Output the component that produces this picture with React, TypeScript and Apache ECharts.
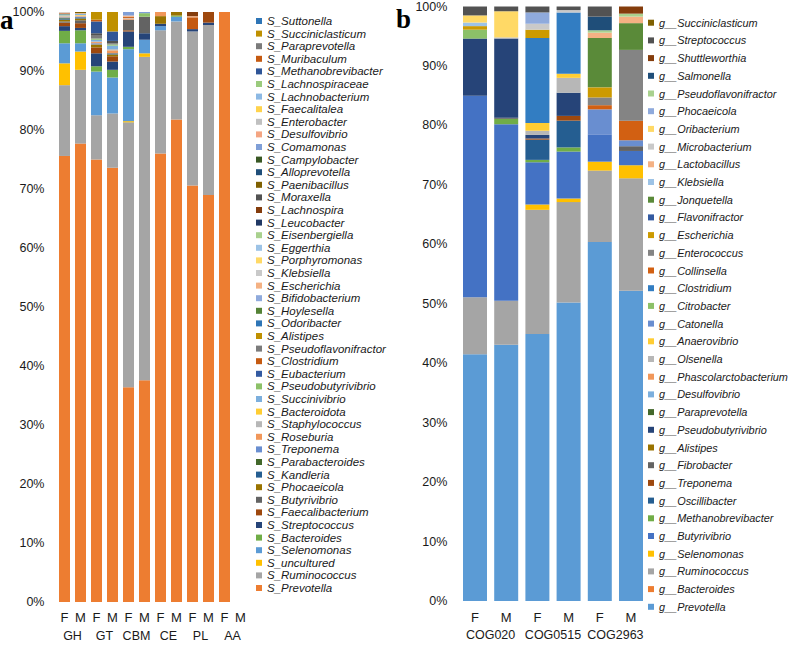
import { useEffect, useRef } from "react";
import * as echarts from "echarts";

// Panel a: species-level composition by breed and sex
const breedSamples = ["F", "M", "F", "M", "F", "M", "F", "M", "F", "M", "F", "M"];
const breedGroups = ["GH", "GT", "CBM", "CE", "PL", "AA"];

// Panel b: genus-level composition by COG group and sex
const cogSamples = ["F", "M", "F", "M", "F", "M"];
const cogGroups = ["COG020", "COG0515", "COG2963"];

const yTicks = { min: 0, max: 100, interval: 10 };

// Species, stacked from the bottom up
const speciesNames = [
  "S_Prevotella", "S_Ruminococcus", "S_uncultured", "S_Selenomonas", "S_Bacteroides",
  "S_Streptococcus", "S_Faecalibacterium", "S_Butyrivibrio", "S_Phocaeicola", "S_Kandleria",
  "S_Parabacteroides", "S_Treponema", "S_Roseburia", "S_Staphylococcus", "S_Bacteroidota",
  "S_Succinivibrio", "S_Pseudobutyrivibrio", "S_Eubacterium", "S_Clostridium", "S_Pseudoflavonifractor",
  "S_Alistipes", "S_Odoribacter", "S_Hoylesella", "S_Bifidobacterium", "S_Escherichia",
  "S_Klebsiella", "S_Porphyromonas", "S_Eggerthia", "S_Eisenbergiella", "S_Leucobacter",
  "S_Lachnospira", "S_Moraxella", "S_Paenibacillus", "S_Alloprevotella", "S_Campylobacter",
  "S_Comamonas", "S_Desulfovibrio", "S_Enterobacter", "S_Faecalitalea", "S_Lachnobacterium",
  "S_Lachnospiraceae", "S_Methanobrevibacter", "S_Muribaculum", "S_Paraprevotella", "S_Succiniclasticum",
  "S_Suttonella",
];

const speciesColors = [
  "#ED7D31", "#A5A5A5", "#FFC000", "#5B9BD5", "#70AD47",
  "#264478", "#9E480E", "#636363", "#997300", "#255E91",
  "#43682B", "#698ED0", "#F1975A", "#B7B7B7", "#FFCD33",
  "#7CAFDD", "#8CC168", "#335AA1", "#C55A11", "#7B7B7B",
  "#BF9000", "#2E75B6", "#548235", "#8FAADC", "#F4B183",
  "#C9C9C9", "#FFD966", "#9DC3E6", "#A9D18E", "#203864",
  "#843C0C", "#525252", "#7F6000", "#1F4E79", "#385723",
  "#7F9FD7", "#F4A582", "#C0C0C0", "#FFD34D", "#8DB9E4",
  "#9BCB7D", "#2F5597", "#C55A11", "#7B7B7B", "#BF9000",
  "#2E75B6",
];

// Relative abundance (%) per species; columns follow breedSamples
const speciesShares: number[][] = [
  [75.6, 77.7, 75.0, 73.6, 36.4, 37.6, 76.0, 81.8, 70.6, 69.0, 100, 0],
  [12.0, 12.5, 7.5, 9.2, 44.9, 54.8, 20.9, 16.6, 26.1, 28.8, 0, 0],
  [3.7, 3.1, 0, 0, 0.2, 0.6, 0, 0, 0, 0, 0, 0],
  [3.4, 1.4, 7.4, 6.1, 12.2, 2.3, 0.7, 0.8, 0, 0, 0, 0],
  [2.1, 2.2, 0.9, 1.3, 0.4, 0, 0, 0.2, 0, 0, 0, 0],
  [0.8, 0.4, 2.2, 1.4, 2.6, 1.1, 0.4, 0, 0.4, 0.4, 0, 0],
  [0.6, 0.8, 1.0, 0.9, 0.2, 0, 0, 0, 0, 1.8, 0, 0],
  [0.2, 0.5, 0, 0, 1.8, 2.8, 0, 0, 0, 0, 0, 0],
  [0.3, 0.3, 0.5, 0.3, 0, 0, 1.3, 0.6, 0, 0, 0, 0],
  [0.2, 0.2, 0, 0.2, 0, 0, 0, 0, 0, 0, 0, 0],
  [0.1, 0, 0, 0, 0, 0, 0, 0, 0, 0, 0, 0],
  [0.1, 0.1, 0.2, 0, 0, 0, 0, 0, 0, 0, 0, 0],
  [0.1, 0.1, 0.2, 0.5, 0.2, 0, 0.7, 0, 0, 0, 0, 0],
  [0.1, 0.1, 0.1, 0.2, 0.1, 0, 0, 0, 0, 0, 0, 0],
  [0.1, 0.1, 0, 0, 0, 0, 0, 0, 0, 0, 0, 0],
  [0.1, 0.2, 0.3, 0.6, 0, 0, 0, 0, 0, 0, 0, 0],
  [0.1, 0, 0.2, 0.2, 0, 0.6, 0, 0, 0, 0, 0, 0],
  [0.1, 0, 0, 0, 0, 0, 0, 0, 0, 0, 0, 0],
  [0.1, 0, 0, 0, 0.2, 0, 0, 0, 2.0, 0, 0, 0],
  [0, 0, 0.6, 0.2, 0, 0, 0, 0, 0, 0, 0, 0],
  [0, 0, 0, 0, 0, 0, 0, 0, 0, 0, 0, 0],
  [0, 0, 0, 0, 0, 0, 0, 0, 0, 0, 0, 0],
  [0, 0, 0, 0, 0, 0, 0, 0, 0, 0, 0, 0],
  [0, 0, 0, 0, 0, 0, 0, 0, 0, 0, 0, 0],
  [0.1, 0.1, 0, 0, 0.2, 0, 0, 0, 0.2, 0, 0, 0],
  [0.1, 0, 0, 0, 0, 0, 0, 0, 0, 0, 0, 0],
  [0, 0, 0, 0, 0, 0, 0, 0, 0, 0, 0, 0],
  [0, 0, 0, 0, 0, 0, 0, 0, 0, 0, 0, 0],
  [0, 0, 0, 0, 0, 0, 0, 0, 0, 0, 0, 0],
  [0, 0, 0, 0, 0, 0, 0, 0, 0, 0, 0, 0],
  [0, 0, 0, 0, 0, 0, 0, 0, 0.7, 0, 0, 0],
  [0, 0, 0.3, 0.4, 0, 0, 0, 0, 0, 0, 0, 0],
  [0, 0.2, 0, 0, 0, 0, 0, 0, 0, 0, 0, 0],
  [0, 0, 0, 0, 0, 0, 0, 0, 0, 0, 0, 0],
  [0, 0, 0, 0, 0, 0, 0, 0, 0, 0, 0, 0],
  [0, 0, 0, 0, 0.6, 0.2, 0, 0, 0, 0, 0, 0],
  [0, 0, 0, 0, 0, 0, 0, 0, 0, 0, 0, 0],
  [0, 0, 0, 0, 0, 0, 0, 0, 0, 0, 0, 0],
  [0, 0, 0, 0, 0, 0, 0, 0, 0, 0, 0, 0],
  [0, 0, 0, 0, 0, 0, 0, 0, 0, 0, 0, 0],
  [0, 0, 0, 0, 0, 0, 0, 0, 0, 0, 0, 0],
  [0, 0, 2.0, 1.6, 0, 0, 0, 0, 0, 0, 0, 0],
  [0, 0, 0.3, 0, 0, 0, 0, 0, 0, 0, 0, 0],
  [0, 0, 0, 0, 0, 0, 0, 0, 0, 0, 0, 0],
  [0, 0, 1.3, 3.3, 0, 0, 0, 0, 0, 0, 0, 0],
  [0, 0, 0, 0, 0, 0, 0, 0, 0, 0, 0, 0],
];

// Genera, stacked from the bottom up
const genusNames = [
  "g__Prevotella", "g__Bacteroides", "g__Ruminococcus", "g__Selenomonas", "g__Butyrivibrio",
  "g__Methanobrevibacter", "g__Oscillibacter", "g__Treponema", "g__Fibrobacter", "g__Alistipes",
  "g__Pseudobutyrivibrio", "g__Paraprevotella", "g__Desulfovibrio", "g__Phascolarctobacterium", "g__Olsenella",
  "g__Anaerovibrio", "g__Catonella", "g__Citrobacter", "g__Clostridium", "g__Collinsella",
  "g__Enterococcus", "g__Escherichia", "g__Flavonifractor", "g__Jonquetella", "g__Klebsiella",
  "g__Lactobacillus", "g__Microbacterium", "g__Oribacterium", "g__Phocaeicola", "g__Pseudoflavonifractor",
  "g__Salmonella", "g__Shuttleworthia", "g__Streptococcus", "g__Succiniclasticum",
];

const genusColors = [
  "#5B9BD5", "#ED7D31", "#A5A5A5", "#FFC000", "#4472C4",
  "#70AD47", "#255E91", "#9E480E", "#636363", "#997300",
  "#264478", "#43682B", "#7CAFDD", "#F1975A", "#B7B7B7",
  "#FFCD33", "#698ED0", "#8CC168", "#327DC2", "#D26012",
  "#848484", "#CC9A00", "#335AA1", "#5A8A39", "#9DC3E6",
  "#F4B183", "#C9C9C9", "#FFD966", "#8FAADC", "#A9D18E",
  "#1F4E79", "#843C0C", "#525252", "#7F6000",
];

// Relative abundance (%) per genus; columns follow cogSamples
const genusShares: number[][] = [
  [41.5, 43.1, 44.9, 50.2, 60.4, 52.2],
  [0, 0, 0, 0, 0, 0],
  [9.6, 7.4, 20.9, 16.9, 12.0, 18.9],
  [0, 0, 0.9, 0.6, 1.5, 2.2],
  [33.9, 29.7, 7.1, 7.9, 4.6, 2.4],
  [0, 0.9, 0.4, 0.7, 0, 0],
  [0, 0, 3.4, 4.5, 0, 0],
  [0, 0, 0.2, 0.8, 0, 0],
  [0, 0.2, 0, 0, 0, 0.8],
  [0, 0, 0, 0, 0, 0],
  [9.6, 13.3, 0.6, 3.9, 0, 0],
  [0, 0, 0, 0, 0, 0],
  [0, 0, 0, 0, 0, 0],
  [0, 0, 0, 0, 0, 0],
  [0, 0.2, 0.7, 2.5, 0, 0],
  [0, 0, 1.3, 0.7, 0, 0],
  [0, 0, 0, 0, 4.2, 1.0],
  [1.5, 0, 0, 0, 0, 0],
  [0, 0, 14.3, 10.3, 0, 0],
  [0, 0, 0, 0, 0.7, 3.3],
  [0, 0, 0, 0, 1.3, 11.9],
  [0.6, 0, 1.4, 0, 1.7, 0],
  [0, 0, 0, 0, 0, 0],
  [0, 0, 0, 0, 8.3, 4.5],
  [0.6, 0, 0, 0, 0, 0],
  [0, 0, 0, 0, 0.9, 1.1],
  [0, 0, 1.0, 0.4, 0, 0],
  [1.2, 4.4, 0, 0, 0, 0],
  [0, 0, 1.9, 0, 0, 0],
  [0, 0, 0, 0, 0.4, 0.5],
  [0, 0, 0, 0, 2.3, 0],
  [0, 0, 0, 0, 0, 1.2],
  [1.5, 0.8, 1.0, 0.6, 1.7, 0],
  [0, 0, 0, 0, 0, 0],
];

const SANS = '"Liberation Sans", Arial, sans-serif';
const INK = "#1a1a1a";

function buildOption() {
  const valueAxis = (gridIndex: number) => ({
    type: "value",
    gridIndex,
    min: yTicks.min,
    max: yTicks.max,
    interval: yTicks.interval,
    axisLine: { show: false },
    axisTick: { show: false },
    splitLine: { show: false },
    axisLabel: {
      formatter: "{value}%",
      color: INK,
      fontFamily: SANS,
      fontSize: 12.5,
      margin: 12,
    },
  });

  const sampleAxis = (gridIndex: number, data: string[], margin: number) => ({
    type: "category",
    gridIndex,
    data,
    axisLine: { show: false },
    axisTick: { show: false },
    axisLabel: { interval: 0, color: INK, fontFamily: SANS, fontSize: 13, margin },
  });

  const groupAxis = (gridIndex: number, data: string[], offset: number) => ({
    type: "category",
    gridIndex,
    data,
    position: "bottom",
    offset,
    axisLine: { show: false },
    axisTick: { show: false },
    axisLabel: { interval: 0, color: INK, fontFamily: SANS, fontSize: 12.5, margin: 8 },
  });

  const speciesSeries = speciesNames.map((name, i) => ({
    name,
    type: "bar",
    stack: "species",
    xAxisIndex: 0,
    yAxisIndex: 0,
    barWidth: 11,
    itemStyle: { color: speciesColors[i] },
    data: speciesShares[i],
  }));

  const genusSeries = genusNames.map((name, i) => ({
    name,
    type: "bar",
    stack: "genus",
    xAxisIndex: 2,
    yAxisIndex: 1,
    barWidth: 24,
    itemStyle: { color: genusColors[i] },
    data: genusShares[i],
  }));

  const legendText = (size: number, lineHeight: number) => ({
    color: INK,
    fontFamily: SANS,
    fontStyle: "italic",
    fontSize: size,
    lineHeight,
  });

  return {
    animation: false,
    backgroundColor: "#ffffff",
    grid: [
      { left: 56.5, top: 12, width: 192, height: 590 },
      { left: 459.4, top: 6, width: 187.2, height: 595 },
    ],
    xAxis: [
      sampleAxis(0, breedSamples, 9),
      groupAxis(0, breedGroups, 19),
      sampleAxis(1, cogSamples, 10),
      groupAxis(1, cogGroups, 19),
    ],
    yAxis: [valueAxis(0), valueAxis(1)],
    legend: [
      {
        orient: "vertical",
        left: 256,
        top: 14.7,
        padding: 0,
        icon: "rect",
        itemWidth: 6,
        itemHeight: 6,
        itemGap: 0,
        selectedMode: false,
        data: [...speciesNames].reverse(),
        textStyle: legendText(11.5, 12.6),
      },
      {
        orient: "vertical",
        left: 648,
        top: 16.2,
        padding: 0,
        icon: "rect",
        itemWidth: 6,
        itemHeight: 6,
        itemGap: 4.7,
        selectedMode: false,
        data: [...genusNames].reverse(),
        textStyle: legendText(10.9, 13),
      },
    ],
    graphic: [
      {
        type: "text",
        left: 0,
        top: 6,
        style: { text: "a", font: 'bold 27px "Liberation Serif", serif', fill: "#000" },
      },
      {
        type: "text",
        left: 396,
        top: 5,
        style: { text: "b", font: 'bold 27px "Liberation Serif", serif', fill: "#000" },
      },
    ],
    series: [...speciesSeries, ...genusSeries],
  };
}

export default function App() {
  const ref = useRef<HTMLDivElement>(null);

  useEffect(() => {
    if (!ref.current) return;
    const chart = echarts.init(ref.current, undefined, { renderer: "svg" });
    chart.setOption(buildOption() as any);
    return () => chart.dispose();
  }, []);

  return (
    <div
      ref={ref}
      style={{ position: "fixed", left: 0, top: 0, width: 790, height: 646, background: "#fff" }}
    />
  );
}
